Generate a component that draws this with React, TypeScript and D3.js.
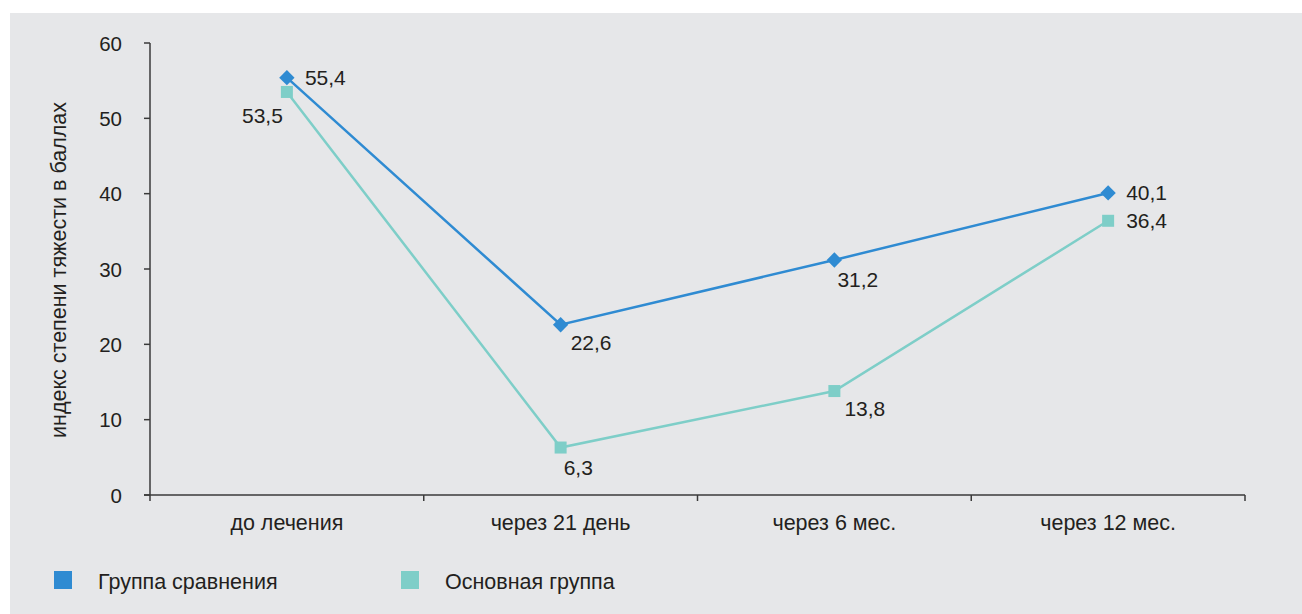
import React from "react";
import * as d3 from "d3";

const categories = ["до лечения", "через 21 день", "через 6 мес.", "через 12 мес."];
const comparisonGroup = [55.4, 22.6, 31.2, 40.1];
const mainGroup = [53.5, 6.3, 13.8, 36.4];
const yTicks = [0, 10, 20, 30, 40, 50, 60];
const seriesNames = ["Группа сравнения", "Основная группа"];
const yTitle = "индекс степени тяжести в баллах";

// label placements (styling)
const compPlacement = ["right", "belowRight", "below", "right"];
const mainPlacement = ["leftBelow", "below", "belowRight", "right"];

const W = 1302;
const H = 614;
const BLUE = "#2f8bd2";
const TEAL = "#7ecec8";
const TEXT = "#231f20";
const AXIS = "#3a3a3a";
const FONT = "'Liberation Sans', Arial, sans-serif";

const fmt = (v: number) => v.toFixed(1).replace(".", ",");

export default function App() {
  const x = d3.scaleBand<string>().domain(categories).range([150, 1245]).padding(0);
  const y = d3.scaleLinear().domain([0, 60]).range([495, 43]);
  const cx = (c: string) => (x(c) as number) + x.bandwidth() / 2;

  const line = d3
    .line<number>()
    .x((_, i) => cx(categories[i]))
    .y((d) => y(d));

  const boundaries = [...categories.map((c) => x(c) as number), 1245];

  const labelPos = (p: string, px: number, py: number) => {
    switch (p) {
      case "right":
        return { x: px + 18, y: py + 7, anchor: "start" };
      case "belowRight":
        return { x: px + 10, y: py + 25, anchor: "start" };
      case "below":
        return { x: px + 3, y: py + 27, anchor: "start" };
      case "leftBelow":
        return { x: px - 4, y: py + 31, anchor: "end" };
      default:
        return { x: px, y: py, anchor: "middle" };
    }
  };

  const diamond = d3.symbol().type(d3.symbolDiamond2).size(150)();
  const square = 12;
  const legendX = [54, 401];

  return (
    <div style={{ position: "fixed", left: 0, top: 0 }}>
      <svg width={W} height={H} style={{ display: "block" }} fontFamily={FONT}>
        <rect x={0} y={0} width={W} height={H} fill="#ffffff" />
        <rect x={10} y={13} width={W - 10} height={H - 13} fill="#e6e7e9" />

        {/* Y axis */}
        <line x1={150} x2={150} y1={y(60)} y2={y(0)} stroke={AXIS} strokeWidth={1.5} />
        {yTicks.map((t) => (
          <g key={t}>
            <line x1={144} x2={150} y1={y(t)} y2={y(t)} stroke={AXIS} strokeWidth={1.5} />
            <text x={122} y={y(t) + 7.5} textAnchor="end" fontSize={20.5} fill={TEXT}>
              {t}
            </text>
          </g>
        ))}
        <text
          transform={`translate(66, ${270}) rotate(-90)`}
          textAnchor="middle"
          fontSize={21.5}
          fill={TEXT}
        >
          {yTitle}
        </text>

        {/* X axis */}
        <line x1={144} x2={1245} y1={y(0)} y2={y(0)} stroke={AXIS} strokeWidth={1.5} />
        {boundaries.map((b, i) => (
          <line key={i} x1={b} x2={b} y1={y(0)} y2={y(0) + 6} stroke={AXIS} strokeWidth={1.5} />
        ))}
        {categories.map((c) => (
          <text key={c} x={cx(c)} y={530} textAnchor="middle" fontSize={21.5} fill={TEXT}>
            {c}
          </text>
        ))}

        {/* Lines */}
        <path d={line(mainGroup) as string} fill="none" stroke={TEAL} strokeWidth={2.5} />
        <path d={line(comparisonGroup) as string} fill="none" stroke={BLUE} strokeWidth={2.5} />

        {/* Markers */}
        {mainGroup.map((v, i) => (
          <rect
            key={i}
            x={cx(categories[i]) - square / 2}
            y={y(v) - square / 2}
            width={square}
            height={square}
            fill={TEAL}
          />
        ))}
        {comparisonGroup.map((v, i) => (
          <path
            key={i}
            d={diamond as string}
            transform={`translate(${cx(categories[i])}, ${y(v)})`}
            fill={BLUE}
          />
        ))}

        {/* Data labels */}
        {comparisonGroup.map((v, i) => {
          const p = labelPos(compPlacement[i], cx(categories[i]), y(v));
          return (
            <text key={i} x={p.x} y={p.y} textAnchor={p.anchor as any} fontSize={21} fill={TEXT}>
              {fmt(v)}
            </text>
          );
        })}
        {mainGroup.map((v, i) => {
          const p = labelPos(mainPlacement[i], cx(categories[i]), y(v));
          return (
            <text key={i} x={p.x} y={p.y} textAnchor={p.anchor as any} fontSize={21} fill={TEXT}>
              {fmt(v)}
            </text>
          );
        })}

        {/* Legend */}
        {seriesNames.map((name, i) => (
          <g key={name}>
            <rect x={legendX[i]} y={571} width={18} height={18} fill={i === 0 ? BLUE : TEAL} />
            <text x={legendX[i] + 44} y={589} fontSize={21.5} fill={TEXT}>
              {name}
            </text>
          </g>
        ))}
      </svg>
    </div>
  );
}
